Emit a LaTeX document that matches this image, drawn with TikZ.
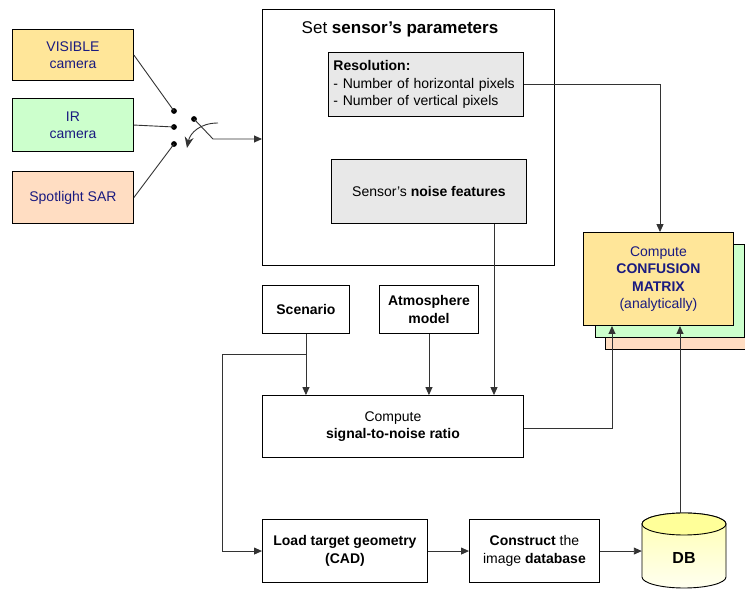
\documentclass[tikz,border=0pt]{standalone}
\usepackage{fontspec}
\setmainfont{Liberation Sans}
\usetikzlibrary{arrows.meta}

\definecolor{camyellow}{HTML}{FFE699}
\definecolor{irgreen}{HTML}{CCFFCC}
\definecolor{sarpeach}{HTML}{FFDDC2}
\definecolor{panelgray}{HTML}{E8E8E8}
\definecolor{navytext}{HTML}{1A1A80}
\definecolor{wire}{HTML}{333333}
\definecolor{dbcap}{HTML}{FFFF99}
\definecolor{dbbody}{HTML}{FFFFB0}
\definecolor{dbfoot}{HTML}{FFFFF0}

\begin{document}
\begin{tikzpicture}[x=1pt,y=1pt,
  box/.style={draw=black, line width=0.9pt, anchor=south west, inner sep=0pt,
    align=center, font=\fontsize{14}{17.5}\selectfont},
  srcbox/.style={box, text=navytext},
  arr/.style={draw=wire, line width=0.9pt, -{Triangle[length=8pt,width=7pt]}},
  wireline/.style={draw=wire, line width=0.9pt},
  dot/.style={fill=black}]
\useasboundingbox (0,0) rectangle (745,589);
\clip (0,0) rectangle (745,589);

% sensor sources
\node[srcbox, fill=camyellow, minimum width=121pt, minimum height=51pt] (vis) at (12,508) {VISIBLE\\camera};
\node[srcbox, fill=irgreen, minimum width=121pt, minimum height=53pt] (ir) at (12,437) {IR\\camera};
\node[srcbox, fill=sarpeach, minimum width=121pt, minimum height=52pt] (sar) at (12,365) {Spotlight SAR};

% selector switch
\coordinate (d1) at (174,478);
\coordinate (d2) at (174,462);
\coordinate (d3) at (174,445);
\coordinate (pivot) at (194,470);
\coordinate (bend) at (213,450);
\coordinate (swa) at (218,466);
\coordinate (swb) at (187,441);
\foreach \p in {d1,d2,d3,pivot} \fill (\p) circle (2.9pt);
\draw[wireline] (vis.east) -- (d1);
\draw[wireline] (ir.east) -- (d2);
\draw[wireline] (sar.east) -- (d3);
\draw[draw=wire, line width=0.9pt, -{Stealth[length=11pt,width=9pt]}] (swa) .. controls (200,466) and (190,456) .. (swb);

% sensor parameters panel
\node[box, minimum width=292pt, minimum height=256pt] (panel) at (262,323) {};
\node[font=\fontsize{17}{20}\selectfont, anchor=center] (ptitle) at (400,560) {Set \textbf{sensor’s parameters}};
\node[box, fill=panelgray, minimum width=195pt, minimum height=64pt, align=left, text width=185pt] (res) at (328,472)
  {\textbf{Resolution:}\\- Number of horizontal pixels\\- Number of vertical pixels};
\node[box, fill=panelgray, minimum width=195pt, minimum height=64pt] (noise) at (331,365) {Sensor’s \textbf{noise features}};
\draw[arr] (pivot) -- (bend) -- (panel.west |- bend);

% confusion matrix stack
\node[box, fill=sarpeach, minimum width=160pt, minimum height=93pt] (stackc) at (605,239) {};
\node[box, fill=irgreen, minimum width=149pt, minimum height=93pt] (stackb) at (595,251) {};
\node[srcbox, fill=camyellow, minimum width=150pt, minimum height=93pt] (conf) at (583,263)
  {Compute\\\textbf{CONFUSION}\\\textbf{MATRIX}\\(analytically)};

% inputs to the SNR computation
\node[box, minimum width=87pt, minimum height=48pt] (scen) at (262,255) {\textbf{Scenario}};
\node[box, minimum width=99pt, minimum height=48pt] (atm) at (379,255) {\textbf{Atmosphere}\\\textbf{model}};
\node[box, minimum width=261pt, minimum height=62pt] (snr) at (262,131) {Compute\\\textbf{signal-to-noise ratio}};

% image database branch
\node[box, minimum width=165pt, minimum height=63pt] (load) at (262,6) {\textbf{Load target geometry}\\\textbf{(CAD)}};
\node[box, minimum width=130pt, minimum height=63pt] (cons) at (469,6) {\textbf{Construct} the\\image \textbf{database}};

% database cylinder
\path[top color=dbbody, bottom color=dbfoot, draw=black, line width=0.9pt]
  (642,65) -- (642,12) arc[start angle=180, end angle=360, x radius=42pt, y radius=11pt]
  -- (726,65) arc[start angle=0, end angle=180, x radius=42pt, y radius=11pt] -- cycle;
\draw[fill=dbcap, line width=0.9pt] (684,65) ellipse[x radius=42pt, y radius=11pt];
\node[font=\bfseries\fontsize{16}{19}\selectfont, minimum width=84pt, minimum height=40pt, inner sep=0pt] (db) at (684,31) {DB};

% connectors
\coordinate (resdrop) at (660,505);
\coordinate (noisex) at (494,365);
\coordinate (join) at (scen.south |- 0,235);
\coordinate (leftrail) at (222,235);
\coordinate (snrout) at (612,161);
\coordinate (dbtop) at (680,76);

\draw[arr] (res.east |- resdrop) -| (conf.north -| resdrop);
\draw[arr] (noisex) -- (noisex |- snr.north);
\draw[arr] (scen.south) -- (scen.south |- snr.north);
\draw[arr] (atm.south) -- (atm.south |- snr.north);
\draw[arr] (snr.east |- snrout) -| (conf.south -| snrout);
\draw[arr] (join) -- (leftrail) |- (load.west);
\draw[arr] (load.east) -- (cons.west);
\draw[arr] (cons.east) -- (db.west |- cons.east);
\draw[arr] (dbtop) -- (conf.south -| dbtop);
\end{tikzpicture}
\end{document}
